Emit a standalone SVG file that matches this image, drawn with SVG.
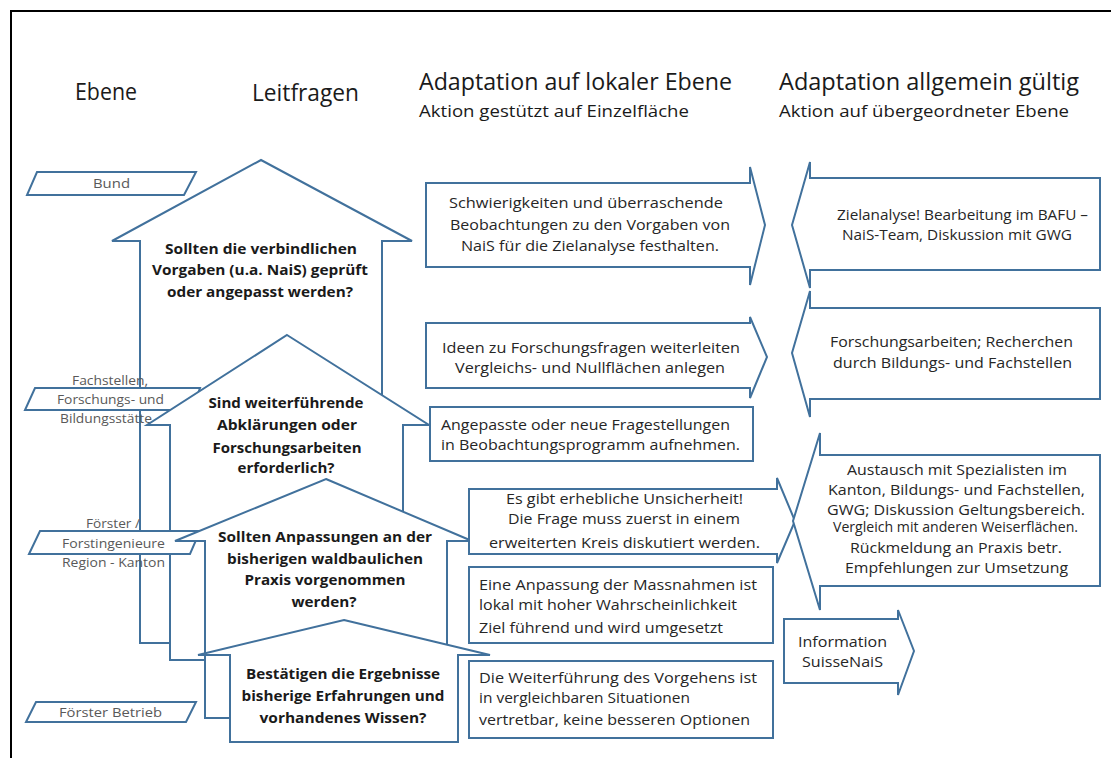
<svg xmlns="http://www.w3.org/2000/svg" width="1111" height="758" viewBox="0 0 1111 758">
<style>
.sh{fill:#fff;stroke:#41719C;stroke-width:2;stroke-linejoin:miter}
.hd{font-family:"Open Sans","Liberation Sans",sans-serif;fill:#1a1a1a;font-size:23px}
.sub{font-family:"Open Sans","Liberation Sans",sans-serif;fill:#1a1a1a;font-size:17px}
.q{font-family:"Open Sans","Liberation Sans",sans-serif;fill:#1a1a1a;font-size:15px;font-weight:bold;text-anchor:middle}
.t{font-family:"Open Sans","Liberation Sans",sans-serif;fill:#262626;font-size:14px}
.c{text-anchor:middle}
.lv{font-family:"Open Sans","Liberation Sans",sans-serif;fill:#595959;font-size:13.5px;text-anchor:middle}
</style>
<rect width="1111" height="758" fill="#fff"/>
<path d="M11 758V11H1111" fill="none" stroke="#000" stroke-width="2"/>

<g id="headings">
<text class="hd" x="75" y="100" textLength="62" lengthAdjust="spacingAndGlyphs">Ebene</text>
<text class="hd" x="252" y="101" textLength="107" lengthAdjust="spacingAndGlyphs">Leitfragen</text>
<text class="hd" x="419" y="90" textLength="313" lengthAdjust="spacingAndGlyphs">Adaptation auf lokaler Ebene</text>
<text class="sub" x="419" y="117" textLength="270" lengthAdjust="spacingAndGlyphs">Aktion gestützt auf Einzelfläche</text>
<text class="hd" x="779" y="90" textLength="300" lengthAdjust="spacingAndGlyphs">Adaptation allgemein gültig</text>
<text class="sub" x="779" y="117" textLength="290" lengthAdjust="spacingAndGlyphs">Aktion auf übergeordneter Ebene</text>
</g>

<g id="level-bund">
<polygon class="sh" points="37,172 196,172 184,195 27,195"/>
<text class="lv" x="111.5" y="188" textLength="37" lengthAdjust="spacingAndGlyphs">Bund</text>
</g>

<g id="q1">
<polygon class="sh" points="261,160 412,241 382,241 382,643 140,643 140,241 112,241"/>
<text class="q" x="261" y="254" textLength="192" lengthAdjust="spacingAndGlyphs">Sollten die verbindlichen</text>
<text class="q" x="260" y="275" textLength="216" lengthAdjust="spacingAndGlyphs">Vorgaben (u.a. NaiS) geprüft</text>
<text class="q" x="260" y="297" textLength="186" lengthAdjust="spacingAndGlyphs">oder angepasst werden?</text>
</g>

<g id="level-fachstellen">
<polygon class="sh" points="35,388 200,388 192,410 25,410"/>
<text class="lv" x="110" y="385" textLength="76" lengthAdjust="spacingAndGlyphs">Fachstellen,</text>
<text class="lv" x="110.5" y="404" textLength="107" lengthAdjust="spacingAndGlyphs">Forschungs- und</text>
<text class="lv" x="106" y="423" textLength="92" lengthAdjust="spacingAndGlyphs">Bildungsstätte</text>
</g>

<g id="q2">
<polygon class="sh" points="287,335 429,425 403,425 403,660 170,660 170,425 147,425"/>
<text class="q" x="286" y="408" textLength="155" lengthAdjust="spacingAndGlyphs">Sind weiterführende</text>
<text class="q" x="287" y="430" textLength="140" lengthAdjust="spacingAndGlyphs">Abklärungen oder</text>
<text class="q" x="287" y="453" textLength="149" lengthAdjust="spacingAndGlyphs">Forschungsarbeiten</text>
<text class="q" x="286" y="473" textLength="97" lengthAdjust="spacingAndGlyphs">erforderlich?</text>
</g>

<g id="level-foerster-kanton">
<polygon class="sh" points="40,531 200,531 190,554 29,554"/>
<text class="lv" x="113" y="528" textLength="54" lengthAdjust="spacingAndGlyphs">Förster /</text>
<text class="lv" x="113.5" y="548" textLength="103" lengthAdjust="spacingAndGlyphs">Forstingenieure</text>
<text class="lv" x="113.5" y="567" textLength="103" lengthAdjust="spacingAndGlyphs">Region - Kanton</text>
</g>

<g id="q3">
<polygon class="sh" points="326,479 472,541 447,541 447,718 205,718 205,541 175,541"/>
<text class="q" x="325" y="542" textLength="214" lengthAdjust="spacingAndGlyphs">Sollten Anpassungen an der</text>
<text class="q" x="325" y="564" textLength="196" lengthAdjust="spacingAndGlyphs">bisherigen waldbaulichen</text>
<text class="q" x="325" y="585" textLength="161" lengthAdjust="spacingAndGlyphs">Praxis vorgenommen</text>
<text class="q" x="324" y="607" textLength="65" lengthAdjust="spacingAndGlyphs">werden?</text>
</g>

<g id="q4">
<polygon class="sh" points="344,620 490,655 458,655 458,742 230,742 230,655 198,655"/>
<text class="q" x="343" y="679" textLength="194" lengthAdjust="spacingAndGlyphs">Bestätigen die Ergebnisse</text>
<text class="q" x="343" y="701" textLength="203" lengthAdjust="spacingAndGlyphs">bisherige Erfahrungen und</text>
<text class="q" x="343" y="723" textLength="167" lengthAdjust="spacingAndGlyphs">vorhandenes Wissen?</text>
</g>

<g id="level-foerster-betrieb">
<polygon class="sh" points="36,702 196,702 186,722 26,722"/>
<text class="lv" x="110.5" y="717" textLength="103" lengthAdjust="spacingAndGlyphs">Förster  Betrieb</text>
</g>

<g id="local-a">
<polygon class="sh" points="426,183 750,183 750,167 765,225 750,285 750,267 426,267"/>
<text class="t c" x="586" y="208" textLength="274" lengthAdjust="spacingAndGlyphs">Schwierigkeiten  und überraschende</text>
<text class="t c" x="590" y="230" textLength="280" lengthAdjust="spacingAndGlyphs">Beobachtungen zu den Vorgaben von</text>
<text class="t c" x="590" y="251" textLength="258" lengthAdjust="spacingAndGlyphs">NaiS für die Zielanalyse festhalten.</text>
</g>

<g id="local-b">
<polygon class="sh" points="426,323 750,323 750,317 767,357 750,398 750,388 426,388"/>
<text class="t c" x="591" y="353" textLength="298" lengthAdjust="spacingAndGlyphs">Ideen zu Forschungsfragen  weiterleiten</text>
<text class="t c" x="590" y="373" textLength="270" lengthAdjust="spacingAndGlyphs">Vergleichs- und Nullflächen anlegen</text>
</g>

<g id="local-c">
<rect class="sh" x="430" y="407" width="323" height="54"/>
<text class="t" x="441" y="430" textLength="289" lengthAdjust="spacingAndGlyphs">Angepasste oder neue Fragestellungen</text>
<text class="t" x="441" y="450" textLength="299" lengthAdjust="spacingAndGlyphs">in Beobachtungsprogramm aufnehmen.</text>
</g>

<g id="local-d">
<polygon class="sh" points="469,489 777,489 777,478 795,521 777,563 777,554 469,554"/>
<text class="t c" x="624.5" y="504" textLength="237" lengthAdjust="spacingAndGlyphs">Es gibt erhebliche Unsicherheit!</text>
<text class="t c" x="624" y="524" textLength="232" lengthAdjust="spacingAndGlyphs">Die Frage muss zuerst in einem</text>
<text class="t c" x="624.5" y="548" textLength="271" lengthAdjust="spacingAndGlyphs">erweiterten  Kreis diskutiert werden.</text>
</g>

<g id="local-f">
<rect class="sh" x="469" y="567" width="304" height="76"/>
<text class="t" x="479" y="590" textLength="278" lengthAdjust="spacingAndGlyphs">Eine Anpassung der Massnahmen ist</text>
<text class="t" x="479" y="610" textLength="258" lengthAdjust="spacingAndGlyphs">lokal mit hoher Wahrscheinlichkeit</text>
<text class="t" x="479" y="633" textLength="244" lengthAdjust="spacingAndGlyphs">Ziel führend und wird umgesetzt</text>
</g>

<g id="local-g">
<rect class="sh" x="469" y="661" width="304" height="77"/>
<text class="t" x="479" y="683" textLength="278" lengthAdjust="spacingAndGlyphs">Die Weiterführung des Vorgehens ist</text>
<text class="t" x="479" y="703" textLength="211" lengthAdjust="spacingAndGlyphs">in vergleichbaren Situationen</text>
<text class="t" x="479" y="725" textLength="271" lengthAdjust="spacingAndGlyphs">vertretbar, keine besseren Optionen</text>
</g>

<g id="general-i">
<polygon class="sh" points="1100,178 810,178 810,162 792,225 810,288 810,270 1100,270"/>
<text class="t c" x="962.5" y="220" textLength="251" lengthAdjust="spacingAndGlyphs">Zielanalyse! Bearbeitung im BAFU –</text>
<text class="t c" x="957" y="240" textLength="230" lengthAdjust="spacingAndGlyphs">NaiS-Team, Diskussion mit GWG</text>
</g>

<g id="general-j">
<polygon class="sh" points="1100,308 810,308 810,291 792,353 810,417 810,399 1100,399"/>
<text class="t c" x="951.5" y="347" textLength="243" lengthAdjust="spacingAndGlyphs">Forschungsarbeiten; Recherchen</text>
<text class="t c" x="952.5" y="368" textLength="239" lengthAdjust="spacingAndGlyphs">durch Bildungs- und Fachstellen</text>
</g>

<g id="general-e">
<polygon class="sh" points="1100,455 820,455 820,433 793,521 820,610 820,586 1100,586"/>
<text class="t c" x="957" y="475" textLength="220" lengthAdjust="spacingAndGlyphs">Austausch mit Spezialisten im</text>
<text class="t c" x="956.5" y="495" textLength="257" lengthAdjust="spacingAndGlyphs">Kanton, Bildungs- und Fachstellen,</text>
<text class="t c" x="956" y="515" textLength="258" lengthAdjust="spacingAndGlyphs">GWG; Diskussion Geltungsbereich.</text>
<text class="t c" x="955.5" y="532" font-size="11" textLength="245" lengthAdjust="spacingAndGlyphs">Vergleich mit anderen Weiserflächen.</text>
<text class="t c" x="956" y="553" textLength="212" lengthAdjust="spacingAndGlyphs">Rückmeldung an Praxis betr.</text>
<text class="t c" x="956.5" y="573" textLength="223" lengthAdjust="spacingAndGlyphs">Empfehlungen zur Umsetzung</text>
</g>

<g id="info-h">
<polygon class="sh" points="784,619 898,619 898,610 914,651 898,695 898,683 784,683"/>
<text class="t c" x="842.5" y="647" textLength="89" lengthAdjust="spacingAndGlyphs">Information</text>
<text class="t c" x="842.5" y="667" textLength="81" lengthAdjust="spacingAndGlyphs">SuisseNaiS</text>
</g>

<g id="connectors"></g>
</svg>
